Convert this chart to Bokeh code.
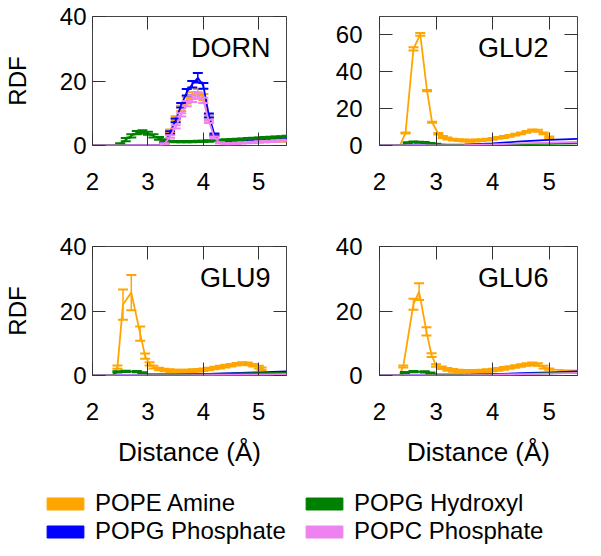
from bokeh.plotting import figure
from bokeh.models import Range1d, LinearAxis, FixedTicker, Label, Legend, LegendItem
from bokeh.layouts import column, row
from bokeh.embed import file_html
from bokeh.resources import INLINE

FONT = "Liberation Sans"
NAN = float("nan")

# ---------------- data ----------------
series_names = ["POPE Amine", "POPG Phosphate", "POPG Hydroxyl", "POPC Phosphate"]
series_colors = ["#FFA500", "#0000FF", "#008000", "#EE82EE"]

x_ticks = [2, 3, 4, 5]
y_ticks_40 = [0, 20, 40]
y_ticks_70 = [0, 20, 40, 60]

panel_labels = ["DORN", "GLU2", "GLU9", "GLU6"]
x_title = "Distance (Å)"
y_title = "RDF"

# DORN
dorn_amine_x = [2.0, 3.2, 3.3, 3.4, 3.5, 3.6, 3.7, 3.8, 3.9, 4.0, 4.1, 4.2, 4.3, 4.4, 4.5, 4.6, 4.7, 4.8, 4.9, 5.0, 5.1, 5.2, 5.3, 5.4, 5.5]
dorn_amine_y = [0, 0, 1.0, 4.5, 8.5, 11.5, 14.0, 15.5, 16.5, 15.0, 8.5, 3.0, 1.0, 0.8, 0.8, 0.9, 1.0, 1.0, 1.1, 1.2, 1.2, 1.3, 1.4, 1.4, 1.5]
dorn_amine_e = [0, 0, 0.2, 0.5, 0.6, 0.8, 1.0, 1.0, 1.0, 1.0, 0.8, 0.3, 0.2, 0.2, 0.2, 0.2, 0.2, 0.2, 0.2, 0.2, 0.2, 0.2, 0.2, 0.2, 0.2]
dorn_phos_x = [2.0, 3.2, 3.3, 3.4, 3.5, 3.6, 3.7, 3.8, 3.9, 4.0, 4.1, 4.2, 4.3, 4.4, 4.5, 4.6, 4.7, 4.8, 4.9, 5.0, 5.1, 5.2, 5.3, 5.4, 5.5]
dorn_phos_y = [0, 0, 0.8, 4.0, 7.8, 12.5, 16.5, 19.0, 21.0, 18.5, 9.3, 3.4, 1.2, 1.0, 1.0, 1.1, 1.2, 1.3, 1.4, 1.5, 1.6, 1.7, 1.8, 1.9, 2.0]
dorn_phos_e = [0, 0, 0.2, 0.4, 0.6, 0.7, 1.0, 1.0, 1.5, 0.9, 0.6, 0.3, 0.2, 0.2, 0.2, 0.2, 0.2, 0.2, 0.2, 0.2, 0.2, 0.2, 0.2, 0.2, 0.2]
dorn_hydr_x = [2.0, 2.4, 2.5, 2.6, 2.7, 2.8, 2.9, 3.0, 3.1, 3.2, 3.3, 3.4, 3.5, 3.6, 3.7, 3.8, 3.9, 4.0, 4.1, 4.2, 4.3, 4.4, 4.5, 4.6, 4.7, 4.8, 4.9, 5.0, 5.1, 5.2, 5.3, 5.4, 5.5]
dorn_hydr_y = [0, 0, 0.5, 1.8, 3.0, 4.0, 4.2, 3.8, 3.0, 2.2, 1.6, 1.3, 1.2, 1.2, 1.2, 1.2, 1.3, 1.3, 1.4, 1.5, 1.6, 1.7, 1.8, 1.9, 2.0, 2.1, 2.2, 2.3, 2.4, 2.5, 2.6, 2.7, 2.8]
dorn_hydr_e = [0, 0, 0.2, 0.5, 0.5, 0.5, 0.5, 0.5, 0.5, 0.4, 0.3, 0.2, 0.2, 0.2, 0.2, 0.2, 0.2, 0.2, 0.2, 0.2, 0.2, 0.2, 0.2, 0.2, 0.2, 0.2, 0.2, 0.2, 0.2, 0.2, 0.2, 0.2, 0.2]
dorn_popc_x = [2.0, 3.2, 3.3, 3.4, 3.5, 3.6, 3.7, 3.8, 3.9, 4.0, 4.1, 4.2, 4.3, 4.4, 4.5, 4.6, 4.7, 4.8, 4.9, 5.0, 5.1, 5.2, 5.3, 5.4, 5.5]
dorn_popc_y = [0, 0, 0.5, 2.8, 5.8, 9.5, 13.0, 14.5, 15.5, 14.0, 7.5, 2.5, 0.8, 0.6, 0.6, 0.7, 0.8, 0.9, 1.0, 1.1, 1.2, 1.3, 1.4, 1.5, 1.6]
dorn_popc_e = [0, 0, 0.2, 0.4, 0.5, 0.5, 0.8, 1.0, 1.0, 0.8, 0.5, 0.3, 0.2, 0.2, 0.2, 0.2, 0.2, 0.2, 0.2, 0.2, 0.2, 0.2, 0.2, 0.2, 0.2]

# GLU2
glu2_amine_x = [2.0, 2.36, 2.46, 2.60, 2.72, 2.84, 2.93, 3.04, 3.12, 3.2, 3.3, 3.4, 3.5, 3.6, 3.7, 3.8, 3.9, 4.0, 4.1, 4.2, 4.3, 4.4, 4.5, 4.6, 4.7, 4.8, 4.9, 5.0]
glu2_amine_y = [0, 0, 6.8, 52.4, 60.3, 29.8, 12.6, 6.4, 4.6, 3.8, 3.2, 2.9, 2.7, 2.6, 2.7, 2.9, 3.2, 3.6, 4.1, 4.6, 5.2, 5.9, 6.6, 7.4, 8.2, 8.0, 6.6, 4.4]
glu2_amine_e = [0, 0, 0.3, 0.9, 0.7, 0.3, 0.3, 0.4, 0.5, 0.5, 0.5, 0.5, 0.5, 0.5, 0.5, 0.5, 0.5, 0.5, 0.5, 0.5, 0.5, 0.5, 0.5, 0.5, 0.5, 0.5, 0.5, 0.5]
glu2_phos_x = [2.0, 3.0, 3.5, 4.0, 4.5, 5.0, 5.5]
glu2_phos_y = [0, 0, 0.4, 1.2, 2.2, 3.0, 3.6]
glu2_hydr_x = [2.0, 2.4, 2.5, 2.6, 2.7, 2.8, 2.9, 3.0, 3.2, 3.5, 4.0, 4.5, 5.0, 5.5]
glu2_hydr_y = [0, 0, 1.5, 1.9, 1.8, 1.6, 1.2, 0.8, 0.5, 0.4, 0.5, 0.7, 0.9, 1.2]
glu2_hydr_e = [0, 0, 0.3, 0.3, 0.3, 0.3, 0.2, 0.1, 0, 0, 0, 0, 0, 0]
glu2_popc_x = [2.0, 3.2, 3.5, 4.0, 4.5, 5.0, 5.5]
glu2_popc_y = [0, 0, 0.2, 0.6, 1.1, 1.6, 2.0]

# GLU9
glu9_amine_x = [2.0, 2.38, 2.45, 2.55, 2.70, 2.86, 2.95, 3.03, 3.1, 3.2, 3.3, 3.4, 3.5, 3.6, 3.7, 3.8, 3.9, 4.0, 4.1, 4.2, 4.3, 4.4, 4.5, 4.6, 4.7, 4.8, 4.9, 5.0, 5.05]
glu9_amine_y = [0, 0, 2.6, 22.0, 25.7, 13.0, 6.0, 3.6, 2.6, 2.0, 1.7, 1.5, 1.4, 1.4, 1.4, 1.5, 1.6, 1.8, 2.0, 2.3, 2.6, 2.9, 3.2, 3.5, 3.7, 3.6, 3.2, 2.6, 2.1]
glu9_amine_e = [0, 0, 0.5, 4.7, 5.5, 2.2, 0.8, 0.5, 0.4, 0.4, 0.4, 0.4, 0.4, 0.4, 0.4, 0.4, 0.4, 0.4, 0.4, 0.4, 0.4, 0.4, 0.4, 0.4, 0.4, 0.4, 0.4, 0.4, 0.4]
glu9_phos_x = [2.0, 3.3, 4.0, 4.5, 5.0, 5.5]
glu9_phos_y = [0, 0, 0.4, 0.7, 1.0, 1.3]
glu9_hydr_x = [2.0, 2.35, 2.45, 2.6, 2.8, 2.9, 3.0, 3.5, 4.0, 4.5, 5.0, 5.5]
glu9_hydr_y = [0, 0, 1.1, 1.3, 1.2, 0.8, 0.5, 0.4, 0.5, 0.6, 0.7, 0.8]
glu9_hydr_e = [0, 0, 0.2, 0.2, 0.2, 0.2, 0, 0, 0, 0, 0, 0]
glu9_popc_x = [2.0, 3.5, 4.5, 5.5]
glu9_popc_y = [0, 0, 0.2, 0.4]

# GLU6
glu6_amine_x = [2.0, 2.35, 2.42, 2.60, 2.70, 2.83, 2.92, 3.0, 3.1, 3.2, 3.3, 3.4, 3.5, 3.6, 3.7, 3.8, 3.9, 4.0, 4.1, 4.2, 4.3, 4.4, 4.5, 4.6, 4.7, 4.8, 4.9, 5.0, 5.1, 5.2, 5.3, 5.4, 5.5]
glu6_amine_y = [0, 0, 2.8, 22.1, 26.0, 13.7, 6.3, 3.1, 2.4, 1.9, 1.6, 1.4, 1.3, 1.3, 1.3, 1.4, 1.5, 1.7, 1.9, 2.2, 2.5, 2.8, 3.1, 3.4, 3.6, 3.4, 2.6, 2.0, 1.8, 1.7, 1.6, 1.6, 1.6]
glu6_amine_e = [0, 0, 0.3, 1.7, 2.6, 1.3, 0.6, 0.4, 0.4, 0.4, 0.4, 0.4, 0.4, 0.4, 0.4, 0.4, 0.4, 0.4, 0.4, 0.4, 0.4, 0.4, 0.4, 0.4, 0.4, 0.4, 0.4, 0.2, 0, 0, 0, 0, 0]
glu6_phos_x = [2.0, 3.3, 4.0, 4.5, 5.0, 5.5]
glu6_phos_y = [0, 0, 0.4, 0.7, 1.0, 1.3]
glu6_hydr_x = [2.0, 2.35, 2.45, 2.6, 2.8, 2.9, 3.0, 3.5, 4.0, 4.5, 5.0, 5.5]
glu6_hydr_y = [0, 0, 0.9, 1.2, 1.1, 0.7, 0.4, 0.3, 0.4, 0.5, 0.7, 0.8]
glu6_hydr_e = [0, 0, 0.2, 0.2, 0.2, 0.2, 0, 0, 0, 0, 0, 0]
glu6_popc_x = [2.0, 3.4, 4.0, 4.5, 5.0, 5.5]
glu6_popc_y = [0, 0, 0.2, 0.4, 0.6, 0.8]


# ---------------- helpers ----------------
def style_axis(ax, ticks, show, standoff):
    ax.ticker = FixedTicker(ticks=ticks)
    ax.major_tick_in = 13
    ax.major_tick_out = 0
    ax.major_tick_line_color = "#333333"
    ax.major_tick_line_width = 1
    ax.minor_tick_line_color = None
    ax.axis_line_color = None
    ax.major_label_text_font = FONT
    ax.major_label_text_color = "black"
    ax.major_label_standoff = standoff
    if show:
        ax.major_label_text_font_size = "24px"
    else:
        ax.major_label_text_font_size = "0px"
        ax.major_label_overrides = {t: "" for t in ticks}
        ax.major_label_standoff = 0


def draw(p, xs, ys, es, color):
    p.line(xs, ys, line_color=color, line_width=1.8)
    if es is None:
        return
    bx = [x for x, e in zip(xs, es) if e > 0]
    hi = [y + e for y, e in zip(ys, es) if e > 0]
    lo = [y - e for y, e in zip(ys, es) if e > 0]
    p.segment(x0=bx, y0=lo, x1=bx, y1=hi, line_color=color, line_width=1.5)
    p.scatter(bx, hi, marker="dash", size=10, line_color=color, line_width=2)
    p.scatter(bx, lo, marker="dash", size=10, line_color=color, line_width=2)


def panel(label, ymax, yticks, series, left, bottom, width, height,
          bl, br, bt, bb, ylab_standoff, label_dx):
    p = figure(width=width, height=height, x_range=Range1d(2, 5.5),
               y_range=Range1d(0, ymax), toolbar_location=None,
               output_backend="svg", min_border_left=bl, min_border_right=br,
               min_border_top=bt, min_border_bottom=bb)
    p.grid.visible = False
    p.outline_line_color = "#444444"
    p.outline_line_width = 1
    p.background_fill_color = "white"
    p.border_fill_color = "white"
    style_axis(p.xaxis[0], x_ticks, True, 27)
    style_axis(p.yaxis[0], yticks, True, ylab_standoff)
    if left:
        ax = p.yaxis[0]
        ax.axis_label = y_title
        ax.axis_label_text_font = FONT
        ax.axis_label_text_font_size = "24px"
        ax.axis_label_text_font_style = "normal"
        ax.axis_label_text_color = "black"
        ax.axis_label_standoff = 26
    if bottom:
        ax = p.xaxis[0]
        ax.axis_label = x_title
        ax.axis_label_text_font = FONT
        ax.axis_label_text_font_size = "26px"
        ax.axis_label_text_font_style = "normal"
        ax.axis_label_text_color = "black"
        ax.axis_label_standoff = 14
    ra = LinearAxis()
    style_axis(ra, yticks, False, 0)
    p.add_layout(ra, "right")
    ta = LinearAxis()
    style_axis(ta, x_ticks, False, 0)
    p.add_layout(ta, "above")
    for (xs, ys, es), c in zip(series, series_colors):
        draw(p, xs, ys, es, c)
    p.add_layout(Label(x=5.5, y=ymax, text=label, text_align="right",
                       text_baseline="top", x_offset=-label_dx, y_offset=-16,
                       text_font=FONT, text_font_size="27px", text_color="black"))
    return p


pA = panel(panel_labels[0], 40, y_ticks_40,
           [(dorn_amine_x, dorn_amine_y, dorn_amine_e),
            (dorn_phos_x, dorn_phos_y, dorn_phos_e),
            (dorn_hydr_x, dorn_hydr_y, dorn_hydr_e),
            (dorn_popc_x, dorn_popc_y, dorn_popc_e)],
           True, False, 300, 230, 88, 14, 16, 85, 6, 16)
pB = panel(panel_labels[1], 70, y_ticks_70,
           [(glu2_amine_x, glu2_amine_y, glu2_amine_e),
            (glu2_phos_x, glu2_phos_y, None),
            (glu2_hydr_x, glu2_hydr_y, glu2_hydr_e),
            (glu2_popc_x, glu2_popc_y, None)],
           False, False, 287, 230, 79, 10, 16, 85, 17, 29)
pC = panel(panel_labels[2], 40, y_ticks_40,
           [(glu9_amine_x, glu9_amine_y, glu9_amine_e),
            (glu9_phos_x, glu9_phos_y, None),
            (glu9_hydr_x, glu9_hydr_y, glu9_hydr_e),
            (glu9_popc_x, glu9_popc_y, None)],
           True, True, 300, 250, 88, 14, 16, 105, 6, 16)
pD = panel(panel_labels[3], 40, y_ticks_40,
           [(glu6_amine_x, glu6_amine_y, glu6_amine_e),
            (glu6_phos_x, glu6_phos_y, None),
            (glu6_hydr_x, glu6_hydr_y, glu6_hydr_e),
            (glu6_popc_x, glu6_popc_y, None)],
           False, True, 287, 250, 79, 10, 16, 105, 17, 29)

# legend figure (swatch renderers hold a single NaN datum, so nothing is drawn in the frame)
lp = figure(width=587, height=74, x_range=Range1d(0, 1), y_range=Range1d(0, 1),
            toolbar_location=None, output_backend="svg", min_border=0,
            x_axis_location=None, y_axis_location=None)
lp.grid.visible = False
lp.outline_line_color = None
rs = []
for c in series_colors:
    rs.append(lp.quad(left=[NAN], right=[NAN], top=[NAN], bottom=[NAN],
                      fill_color=c, line_color=c))


def make_legend(idx, loc):
    return Legend(items=[LegendItem(label=series_names[i], renderers=[rs[i]]) for i in idx],
                  location=loc, orientation="vertical", glyph_width=46, glyph_height=15,
                  label_standoff=7, spacing=0, padding=0, margin=0,
                  border_line_color=None, background_fill_alpha=0,
                  label_text_font=FONT, label_text_font_size="24px",
                  label_text_color="black")


lp.add_layout(make_legend([0, 1], (42, 9)))
lp.add_layout(make_legend([2, 3], (301, 9)))

layout = column(row(pA, pB), row(pC, pD), lp)
open("out.html", "w").write(file_html(layout, INLINE))
